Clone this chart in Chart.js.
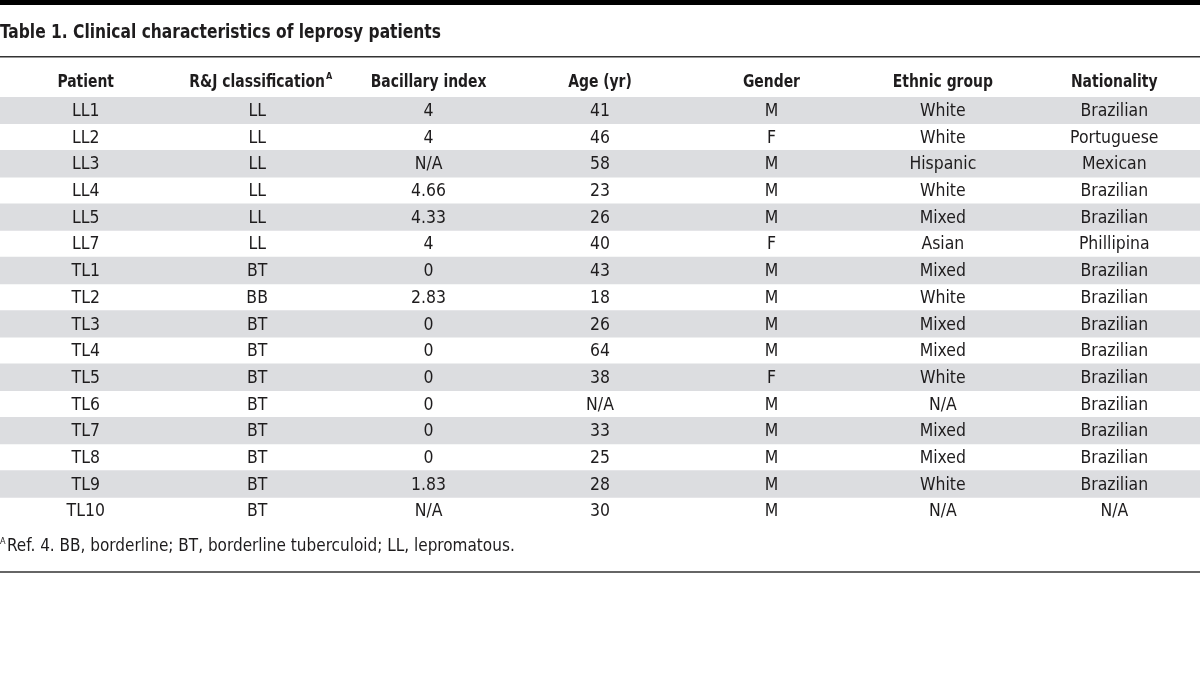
<!DOCTYPE html>
<html>
<head>
<meta charset="utf-8">
<script src="https://cdn.jsdelivr.net/npm/chart.js@4.4.1/dist/chart.umd.min.js"></script>
<style>
  html, body { margin: 0; padding: 0; background: #fff; }
  #wrap { width: 1200px; height: 685px; position: relative; }
</style>
</head>
<body>
<div id="wrap"><canvas id="tabela"></canvas></div>
<script>
var titulo = "Table 1. Clinical characteristics of leprosy patients";
var colunas = ["Patient", "R&J classification", "Bacillary index", "Age (yr)", "Gender", "Ethnic group", "Nationality"];
var pacientes = ["LL1", "LL2", "LL3", "LL4", "LL5", "LL7", "TL1", "TL2", "TL3", "TL4", "TL5", "TL6", "TL7", "TL8", "TL9", "TL10"];
var classificacao = ["LL", "LL", "LL", "LL", "LL", "LL", "BT", "BB", "BT", "BT", "BT", "BT", "BT", "BT", "BT", "BT"];
var indiceBacilar = ["4", "4", "N/A", "4.66", "4.33", "4", "0", "2.83", "0", "0", "0", "0", "0", "0", "1.83", "N/A"];
var idade = ["41", "46", "58", "23", "26", "40", "43", "18", "26", "64", "38", "N/A", "33", "25", "28", "30"];
var sexo = ["M", "F", "M", "M", "M", "F", "M", "M", "M", "M", "F", "M", "M", "M", "M", "M"];
var etnia = ["White", "White", "Hispanic", "White", "Mixed", "Asian", "Mixed", "White", "Mixed", "Mixed", "White", "N/A", "Mixed", "Mixed", "White", "N/A"];
var nacionalidade = ["Brazilian", "Portuguese", "Mexican", "Brazilian", "Brazilian", "Phillipina", "Brazilian", "Brazilian", "Brazilian", "Brazilian", "Brazilian", "Brazilian", "Brazilian", "Brazilian", "Brazilian", "N/A"];
var nota = "Ref. 4. BB, borderline; BT, borderline tuberculoid; LL, lepromatous.";

var FONTE = "'DejaVu Sans Condensed', 'DejaVu Sans', sans-serif";
var COR_TEXTO = "#1e1c1d";

// escreve o texto apertado na horizontal (a fonte original e mais estreita)
function escreve(c, s, x, y, fator) {
  var w = c.measureText(s).width;
  c.fillText(s, x, y, w * fator);
  return w * fator;
}

document.addEventListener("DOMContentLoaded", function () {
  var linhas = [pacientes, classificacao, indiceBacilar, idade, sexo, etnia, nacionalidade];

  // faixas cinzas nas linhas alternadas
  var faixas = pacientes.map(function (p, i) {
    return i % 2 === 0 ? [0, colunas.length] : null;
  });

  var desenhaTabela = {
    id: "desenhaTabela",
    beforeDraw: function (chart) {
      var c = chart.ctx;
      c.save();
      c.fillStyle = "#fff";
      c.fillRect(0, 0, chart.width, chart.height);
      c.restore();
    },
    afterDraw: function (chart) {
      var c = chart.ctx;
      var x = chart.scales.x;
      var y = chart.scales.y;
      var W = chart.width;
      c.save();

      // barra preta do topo
      c.fillStyle = "#000";
      c.fillRect(0, 0, W, 5);

      // titulo
      c.fillStyle = COR_TEXTO;
      c.textBaseline = "middle";
      c.textAlign = "left";
      c.font = "bold 20px " + FONTE;
      escreve(c, titulo, 0, 33, 0.86);

      // linha sob o titulo
      c.fillStyle = "#333";
      c.fillRect(0, 56, W, 1.5);

      // cabecalho
      c.fillStyle = COR_TEXTO;
      c.textAlign = "center";
      var yCab = y.top - 15;
      colunas.forEach(function (nome, j) {
        var cx = x.getPixelForValue(j + 0.5);
        c.font = "bold 18px " + FONTE;
        var w = escreve(c, nome, cx, yCab, 0.86);
        if (j === 1) {
          c.save();
          c.font = "bold 9px " + FONTE;
          c.textAlign = "left";
          c.fillText("A", cx + w / 2 + 1, yCab - 5);
          c.restore();
        }
      });

      // celulas
      c.font = "18px " + FONTE;
      linhas.forEach(function (col, j) {
        var cx = x.getPixelForValue(j + 0.5);
        col.forEach(function (v, i) {
          escreve(c, v, cx, y.getPixelForValue(i) + 1, 0.97);
        });
      });

      // nota de rodape
      var yNota = y.bottom + 23;
      c.textAlign = "left";
      c.font = "9px " + FONTE;
      c.fillText("A", 0, yNota - 5);
      c.font = "17px " + FONTE;
      c.fillText(nota, 7, yNota);

      // linha final
      c.fillStyle = "#666";
      c.fillRect(0, y.bottom + 47, W, 2);
      c.restore();
    }
  };

  var ctx = document.getElementById("tabela").getContext("2d");
  var tabela = new Chart(ctx, {
    type: "bar",
    data: {
      labels: pacientes,
      datasets: [
        {
          label: "faixas",
          data: faixas,
          backgroundColor: "#dcdde0",
          borderWidth: 0,
          barPercentage: 1,
          categoryPercentage: 1,
        },
      ],
    },
    options: {
      indexAxis: "y",
      responsive: true,
      maintainAspectRatio: false,
      animation: false,
      layout: { padding: { top: 97, bottom: 161, left: 0, right: 0 } },
      plugins: { legend: { display: false }, tooltip: { enabled: false } },
      scales: {
        x: { type: "linear", min: 0, max: colunas.length, display: false },
        y: { type: "category", display: false, grid: { display: false } },
      },
    },
    plugins: [desenhaTabela],
  });
});
</script>
</body>
</html>
